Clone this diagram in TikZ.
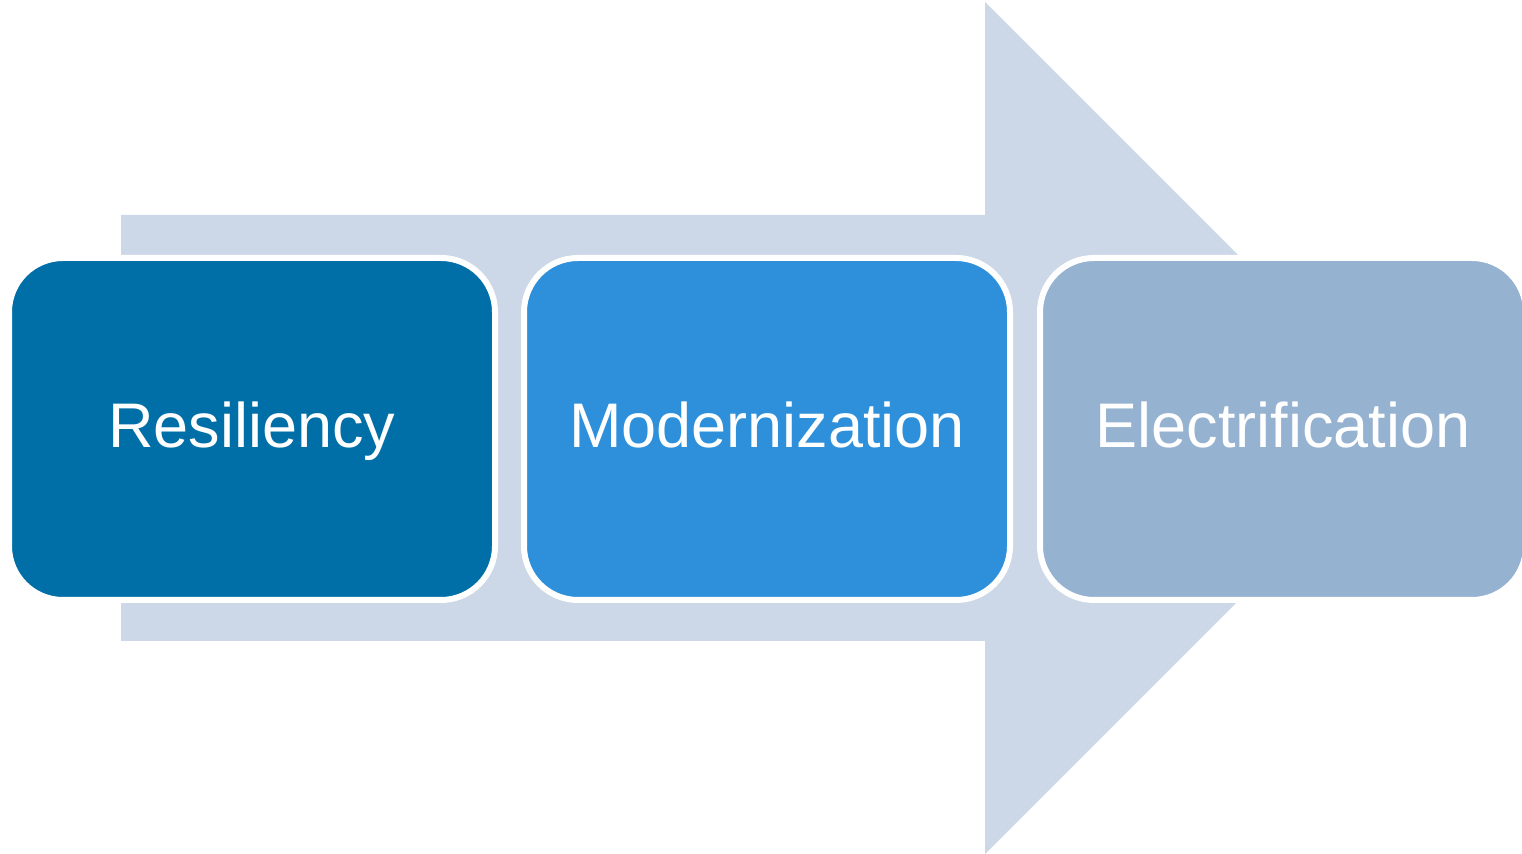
\documentclass[tikz,border=0pt]{standalone}
\usepackage{fontspec}
\setmainfont{Liberation Sans}
\definecolor{arrowfill}{HTML}{CCD8E7}
\definecolor{stepone}{HTML}{006FA7}
\definecolor{steptwo}{HTML}{2E90DA}
\definecolor{stepthree}{HTML}{96B2D1}
\tikzset{
  stagebox/.style={draw=white, line width=3pt, rounded corners=27pt},
  stagelabel/.style={text=white, font=\fontsize{31.5}{36}\selectfont, anchor=base, inner sep=0pt}
}
\begin{document}
\begin{tikzpicture}[x=0.5pt,y=-0.5pt]
  \useasboundingbox (0,0) rectangle (1522,854);
  % background block arrow
  \fill[arrowfill] (121,215) -- (985,215) -- (985,2) -- (1411,428) -- (985,854)
    -- (985,641) -- (121,641) -- cycle;
  % stage boxes
  \path[stagebox, fill=stepone] (9,258) rectangle (495,600);
  \path[stagebox, fill=steptwo] (524,258) rectangle (1010,600);
  \path[stagebox, fill=stepthree] (1040,258) rectangle (1526,600);
  \node[stagelabel] (res) at (252,448) {Resiliency};
  \node[stagelabel] (mod) at (767,448) {Modernization};
  \node[stagelabel] (ele) at (1283,448) {Electrification};
\end{tikzpicture}
\end{document}
